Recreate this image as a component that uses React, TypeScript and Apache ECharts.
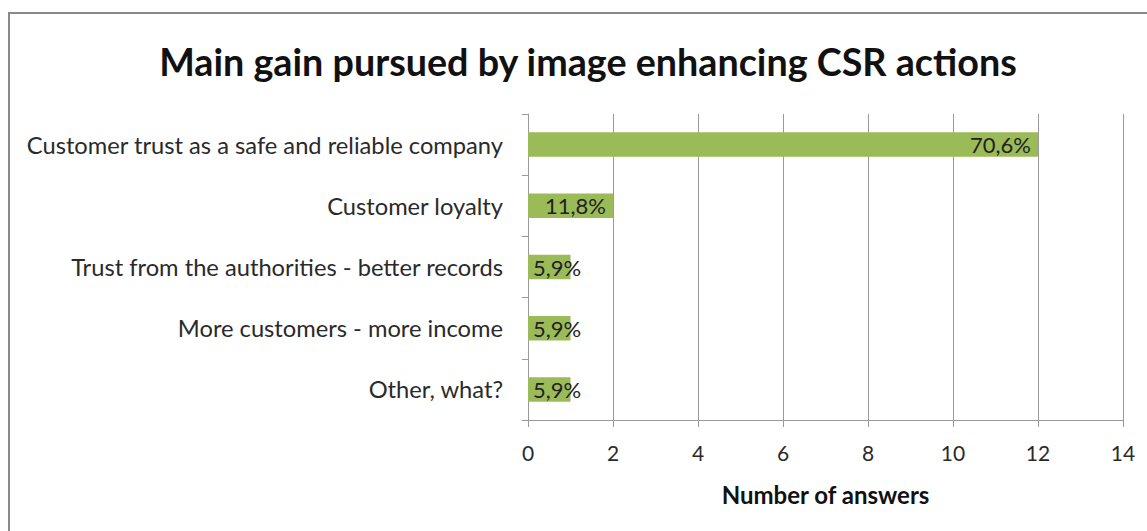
import React, { useEffect, useRef } from "react";
import * as echarts from "echarts";

const categories = [
  "Customer trust as a safe and reliable company",
  "Customer loyalty",
  "Trust from the authorities - better records",
  "More customers - more income",
  "Other, what?",
];
const answers = [12, 2, 1, 1, 1];
const percentLabels = ["70,6%", "11,8%", "5,9%", "5,9%", "5,9%"];
const xTicks = { min: 0, max: 14, interval: 2 };

const FONT = "Lato, 'Open Sans', sans-serif";

export default function App() {
  const ref = useRef<HTMLDivElement>(null);
  useEffect(() => {
    document.body.style.margin = "0";
    const chart = echarts.init(ref.current!, null, { renderer: "svg" });
    chart.setOption({
      animation: false,
      backgroundColor: "#ffffff",
      title: {
        text: "Main gain pursued by image enhancing CSR actions",
        left: 583,
        top: 37,
        textAlign: "center",
        textStyle: { fontFamily: FONT, fontWeight: "bold", fontSize: 37.7, color: "#111" },
      },
      graphic: [
        {
          type: "rect",
          shape: { x: 9, y: 13, width: 1160, height: 540 },
          style: { fill: "none", stroke: "#8a8a8a", lineWidth: 2 },
          silent: true,
        },
      ],
      grid: { left: 528, right: 24, top: 114, bottom: 111, containLabel: false },
      xAxis: {
        type: "value",
        min: xTicks.min,
        max: xTicks.max,
        interval: xTicks.interval,
        name: "Number of answers",
        nameLocation: "middle",
        nameGap: 62,
        nameTextStyle: { fontFamily: FONT, fontWeight: "bold", fontSize: 24, color: "#111" },
        axisLine: { show: true, lineStyle: { color: "#9a9a9a", width: 1 } },
        axisTick: { show: true, length: 7, lineStyle: { color: "#9a9a9a" } },
        axisLabel: { fontFamily: FONT, fontSize: 21, color: "#2a2a2a", margin: 22 },
        splitLine: { show: true, lineStyle: { color: "#9a9a9a", width: 1 } },
      },
      yAxis: {
        type: "category",
        inverse: true,
        data: categories,
        axisLine: { show: true, lineStyle: { color: "#9a9a9a", width: 1 } },
        axisTick: { show: true, length: 6, lineStyle: { color: "#9a9a9a" } },
        axisLabel: { fontFamily: FONT, fontSize: 23.7, color: "#2a2a2a", margin: 25 },
      },
      series: [
        {
          type: "bar",
          barWidth: "40%",
          itemStyle: { color: "#9bbb59" },
          data: answers.map((v, i) => ({
            value: v,
            label: {
              show: true,
              position: v >= 2 ? "insideRight" : "insideLeft",
              distance: v >= 2 ? 7 : 5,
              formatter: percentLabels[i],
              fontFamily: FONT,
              fontSize: 22,
              color: "#222",
            },
          })),
        },
      ],
    });
    return () => chart.dispose();
  }, []);
  return <div ref={ref} style={{ width: 1147, height: 531 }} />;
}
